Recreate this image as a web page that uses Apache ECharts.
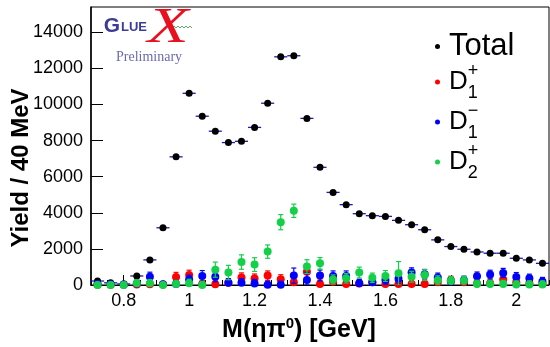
<!DOCTYPE html>
<html><head><meta charset="utf-8">
<script src="https://cdn.jsdelivr.net/npm/echarts@6/dist/echarts.min.js"></script>
<style>html,body{margin:0;padding:0;background:#fff}#c{width:550px;height:347px}</style>
</head><body><div id="c"></div>
<script>
// ---------- data ----------
const binCenters = [0.72,0.76,0.80,0.84,0.88,0.92,0.96,1.00,1.04,1.08,1.12,1.16,1.20,1.24,1.28,1.32,1.36,1.40,1.44,1.48,1.52,1.56,1.60,1.64,1.68,1.72,1.76,1.80,1.84,1.88,1.92,1.96,2.00,2.04,2.08];
const binHalfWidth = 0.02;
const total = [220,120,60,500,1390,3170,7100,10620,9350,8520,7890,7960,8730,10070,12640,12700,9230,6520,5130,4450,3950,3840,3800,3580,3340,3060,2500,2130,1980,1830,1760,1760,1480,1390,1200];
const d1plus = [20,10,10,30,40,30,450,560,60,40,130,420,360,520,320,150,740,60,180,60,80,150,60,50,60,50,150,260,150,80,100,310,150,100,60];
const d1plusErr = [150,150,150,150,150,150,250,260,200,200,220,250,250,260,250,250,400,220,220,220,220,220,220,220,220,220,220,220,220,220,220,230,220,220,200];
const d1minus = [60,40,30,90,460,40,60,300,500,460,130,130,90,10,10,520,280,530,500,500,100,150,280,350,690,600,420,200,260,480,580,670,450,370,200];
const d1minusErr = [150,150,150,180,250,150,200,250,300,280,220,220,220,200,200,420,420,300,280,280,220,230,240,300,260,260,240,220,230,240,240,250,240,230,220];
const d2plus = [0,0,0,100,100,0,60,100,0,850,690,1270,1130,1850,3480,4110,1020,1200,310,370,690,400,500,650,460,560,260,240,240,60,60,60,30,30,30];
const d2plusErr = [150,150,150,200,200,150,200,220,200,420,400,400,380,370,420,370,380,320,250,260,300,260,300,650,300,300,250,240,240,200,200,200,200,200,200];

const xTickValues = [0.8,1.0,1.2,1.4,1.6,1.8,2.0];
const xTickLabels = ['0.8','1','1.2','1.4','1.6','1.8','2'];
const xMinorTicks = [0.7,0.75,0.85,0.9,0.95,1.05,1.1,1.15,1.25,1.3,1.35,1.45,1.5,1.55,1.65,1.7,1.75,1.85,1.9,1.95,2.05,2.1];
const yTickValues = [0,2000,4000,6000,8000,10000,12000,14000];
const yTickLabels = ['0','2000','4000','6000','8000','10000','12000','14000'];

const seriesNames = ['Total','D1+','D1-','D2+'];
const seriesColors = ['#000000','#ff0000','#0000ff','#14cf48'];
const legendMain = ['Total','D','D','D'];
const legendSup = ['','+','\u2212','+'];
const legendSub = ['','1','1','2'];
const xTitle = ['M(\u03b7\u03c0','0',') [GeV]'];
const yTitle = 'Yield / 40 MeV';

// ---------- chart ----------
const FONT = '"Liberation Sans", Arial, Helvetica, sans-serif';
const chart = echarts.init(document.getElementById('c'), null, {renderer: 'canvas'});

function pts(vals, errs) {
  return binCenters.map((x, i) => errs ? [x, vals[i], errs[i]] : [x, vals[i]]);
}

function hErrRender(color) {
  return function (params, api) {
    const x = api.value(0), y = api.value(1);
    const a = api.coord([x - binHalfWidth, y]);
    const b = api.coord([x + binHalfWidth, y]);
    return {type: 'line', shape: {x1: a[0], y1: a[1], x2: b[0], y2: b[1]},
      style: {stroke: color, lineWidth: 1.3}};
  };
}
function vErrRender(color) {
  return function (params, api) {
    const x = api.value(0), y = api.value(1), e = api.value(2);
    const lo = api.coord([x, Math.max(0, y - e)]);
    const hi = api.coord([x, y + e]);
    const cap = 2.5;
    const st = {stroke: color, lineWidth: 1.2};
    return {type: 'group', children: [
      {type: 'line', shape: {x1: lo[0], y1: lo[1], x2: hi[0], y2: hi[1]}, style: st},
      {type: 'line', shape: {x1: hi[0] - cap, y1: hi[1], x2: hi[0] + cap, y2: hi[1]}, style: st},
      {type: 'line', shape: {x1: lo[0] - cap, y1: lo[1], x2: lo[0] + cap, y2: lo[1]}, style: st}
    ]};
  };
}

const colored = [[d1plus, d1plusErr], [d1minus, d1minusErr], [d2plus, d2plusErr]];
const series = [
  {name: 'Total bin', type: 'custom', z: 2, silent: true,
   renderItem: hErrRender('#1c1ca8'), data: pts(total), clip: true},
  {name: seriesNames[0], type: 'scatter', z: 3, symbol: 'circle', symbolSize: 7,
   itemStyle: {color: seriesColors[0], opacity: 1}, data: pts(total), silent: true}
];
colored.forEach((c, k) => {
  series.push({name: seriesNames[k + 1] + ' err', type: 'custom', z: 4 + 2 * k, silent: true,
    renderItem: vErrRender(seriesColors[k + 1]), data: pts(c[0], c[1]), clip: true});
  series.push({name: seriesNames[k + 1], type: 'scatter', z: 5 + 2 * k, symbol: 'circle', symbolSize: 8,
    itemStyle: {color: seriesColors[k + 1], opacity: 1}, data: pts(c[0]), silent: true});
});

const legendFmt = {};
seriesNames.forEach((n, i) => {
  legendFmt[n] = i === 0 ? '{t|' + legendMain[i] + '}'
    : '{d|' + legendMain[i] + '}{sup|' + legendSup[i] + '}{sub|' + legendSub[i] + '}';
});

const option = {
  animation: false,
  backgroundColor: '#fff',
  grid: {left: 91, right: 1, top: 7, bottom: 62, show: true, borderColor: '#000', borderWidth: 1, containLabel: false},
  xAxis: [{
    type: 'value', min: 0.7, max: 2.1,
    axisLine: {show: true, onZero: false, lineStyle: {color: '#000', width: 1.2}},
    axisTick: {show: true, inside: true, length: 10, customValues: xTickValues, lineStyle: {color: '#000'}},
    axisLabel: {show: true, customValues: xTickValues, margin: 7, fontSize: 18, fontFamily: FONT, color: '#000',
      formatter: v => { const i = xTickValues.findIndex(t => Math.abs(t - v) < 1e-6); return i >= 0 ? xTickLabels[i] : ''; }},
    splitLine: {show: false}
  }, {
    type: 'value', min: 0.7, max: 2.1, position: 'bottom',
    axisLine: {show: false},
    axisTick: {show: true, inside: true, length: 5, customValues: xMinorTicks, lineStyle: {color: '#000'}},
    axisLabel: {show: false},
    splitLine: {show: false}
  }],
  yAxis: {
    type: 'value', min: 0, max: 15400,
    axisLine: {show: true, onZero: false, lineStyle: {color: '#000', width: 1.5}},
    axisTick: {show: true, inside: true, length: 12, customValues: yTickValues, lineStyle: {color: '#000'}},
    axisLabel: {show: true, customValues: yTickValues, margin: 8, fontSize: 18, fontFamily: FONT, color: '#000',
      formatter: v => { const i = yTickValues.indexOf(v); return i >= 0 ? yTickLabels[i] : ''; }},
    splitLine: {show: false}
  },
  legend: {
    data: seriesNames, orient: 'vertical', left: 430, top: 26, itemWidth: 5, itemHeight: 5, itemGap: 0,
    icon: 'circle', selectedMode: false,
    formatter: n => legendFmt[n],
    textStyle: {color: '#000', fontFamily: FONT, padding: [0, 0, 0, 4],
      rich: {
        t: {fontSize: 31, lineHeight: 40, fontFamily: FONT, color: '#000'},
        d: {fontSize: 26, lineHeight: 40, fontFamily: FONT, color: '#000'},
        sup: {fontSize: 18, lineHeight: 20, verticalAlign: 'top', width: 0, fontFamily: FONT, color: '#000'},
        sub: {fontSize: 18, lineHeight: 20, verticalAlign: 'bottom', fontFamily: FONT, color: '#000'}
      }}
  },
  graphic: [
    {type: 'text', x: 21, y: 168, rotation: Math.PI / 2, silent: true,
     style: {text: yTitle, font: 'bold 24px ' + FONT, fill: '#000', align: 'center', verticalAlign: 'middle'}},
    {type: 'text', x: 299, y: 330, silent: true,
     style: {text: '{a|' + xTitle[0] + '}{b|' + xTitle[1] + '}{a|' + xTitle[2] + '}',
       align: 'center', verticalAlign: 'middle',
       rich: {a: {font: 'bold 25px ' + FONT, fill: '#000', lineHeight: 28},
              b: {font: 'bold 15px ' + FONT, fill: '#000', lineHeight: 16, verticalAlign: 'top'}}}},
    // GlueX logo
    {type: 'text', x: 112, y: 26, silent: true,
     style: {text: 'G', font: 'bold 21px ' + FONT, fill: '#3b3b98', align: 'center', verticalAlign: 'middle'}},
    {type: 'text', x: 121, y: 27.5, silent: true,
     style: {text: 'LUE', font: 'bold 13px ' + FONT, fill: '#3b3b98', align: 'left', verticalAlign: 'middle'}},
    {type: 'polyline', silent: true,
     shape: {points: [[172,28],[174,26],[176,28],[178,26],[180,28],[182,26],[184,28],[186,26],[188,28],[190,26],[192,28]]},
     style: {stroke: '#3aa040', lineWidth: 0.8, fill: null}},
    {type: 'text', x: 168, y: 29, scaleX: 1.35, silent: true,
     style: {text: 'X', font: 'italic 50px "Liberation Serif", "DejaVu Serif", serif', fill: '#e8101e', align: 'center', verticalAlign: 'middle'}},
    {type: 'text', x: 116, y: 57, silent: true,
     style: {text: 'Preliminary', font: '14px "Liberation Serif", "DejaVu Serif", serif', fill: '#6a6ab2', align: 'left', verticalAlign: 'middle'}}
  ],
  series: series
};
chart.setOption(option);
</script>
</body></html>
